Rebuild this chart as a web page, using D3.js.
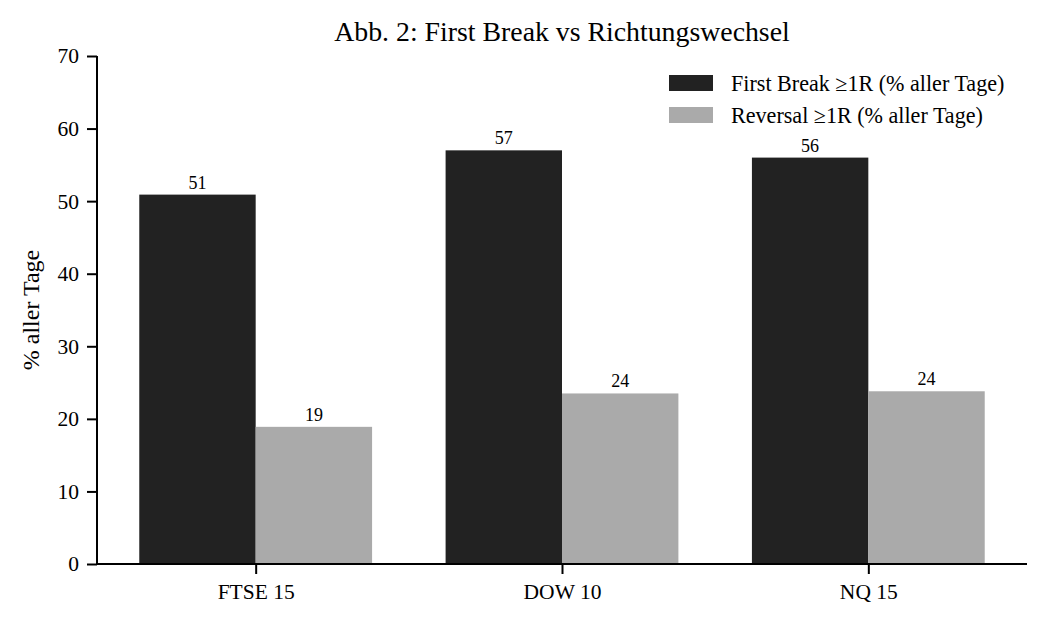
<!DOCTYPE html>
<html><head><meta charset="utf-8">
<script src="https://cdn.jsdelivr.net/npm/d3@7"></script>
<style>body{margin:0;background:#fff;} text{font-family:"Liberation Serif","Times New Roman",serif;fill:#000;}</style>
</head><body><svg id="c" width="1046" height="624"></svg>
<script>
const categories = ["FTSE 15", "DOW 10", "NQ 15"];
const firstBreak = [50.9, 57.0, 56.0];
const reversal = [18.9, 23.5, 23.8];
const seriesNames = ["First Break \u22651R (% aller Tage)", "Reversal \u22651R (% aller Tage)"];
const seriesColors = ["#222222", "#aaaaaa"];
const yTicks = [0, 10, 20, 30, 40, 50, 60, 70];

const svg = d3.select("#c");
const L = 97, R = 1027, T = 56, B = 564;
const bw = 0.38;
const x = d3.scaleLinear().domain([-0.518, 2.518]).range([L, R]);
const y = d3.scaleLinear().domain([0, 70]).range([B, T]);

const series = [firstBreak, reversal];
series.forEach((vals, si) => {
  const off = si === 0 ? -bw : 0;
  svg.append("g").selectAll("rect").data(vals).join("rect")
    .attr("x", (d, i) => x(i + off))
    .attr("width", (d, i) => x(i + off + bw) - x(i + off))
    .attr("y", d => y(d))
    .attr("height", d => y(0) - y(d))
    .attr("fill", seriesColors[si]);
  svg.append("g").selectAll("text").data(vals).join("text")
    .attr("x", (d, i) => x(i + off + bw / 2))
    .attr("y", d => y(d) - 6)
    .attr("text-anchor", "middle")
    .style("font-size", "18px")
    .text(d => Math.round(d));
});

const ya = svg.append("g").attr("transform", `translate(${L},0)`)
  .call(d3.axisLeft(y).tickValues(yTicks).tickSize(10).tickPadding(8).tickFormat(d3.format("d")));
const xa = svg.append("g").attr("transform", `translate(0,${B})`)
  .call(d3.axisBottom(x).tickValues([0, 1, 2]).tickSize(10).tickPadding(10).tickFormat(i => categories[i]));
[ya, xa].forEach(a => {
  a.selectAll("path").attr("stroke", "#000").attr("stroke-width", 2);
  a.selectAll("line").attr("stroke", "#000").attr("stroke-width", 2);
  a.selectAll("text").style("font-size", "21.5px").style("font-family", "'Liberation Serif','Times New Roman',serif");
});
ya.select("path").attr("d", `M0,${B}V${T}`);
xa.select("path").attr("d", `M${L},0H${R}`);

svg.append("text").attr("x", (L + R) / 2).attr("y", 41).attr("text-anchor", "middle")
  .style("font-size", "27.8px").text("Abb. 2: First Break vs Richtungswechsel");
svg.append("text").attr("transform", `translate(39,${(T + B) / 2}) rotate(-90)`)
  .attr("text-anchor", "middle").style("font-size", "24px").text("% aller Tage");

const lg = svg.append("g");
seriesNames.forEach((n, i) => {
  lg.append("rect").attr("x", 669).attr("y", 75 + i * 32).attr("width", 44).attr("height", 16).attr("fill", seriesColors[i]);
  lg.append("text").attr("x", 731).attr("y", 91 + i * 32).style("font-size", "22.1px").text(n);
});
</script></body></html>
